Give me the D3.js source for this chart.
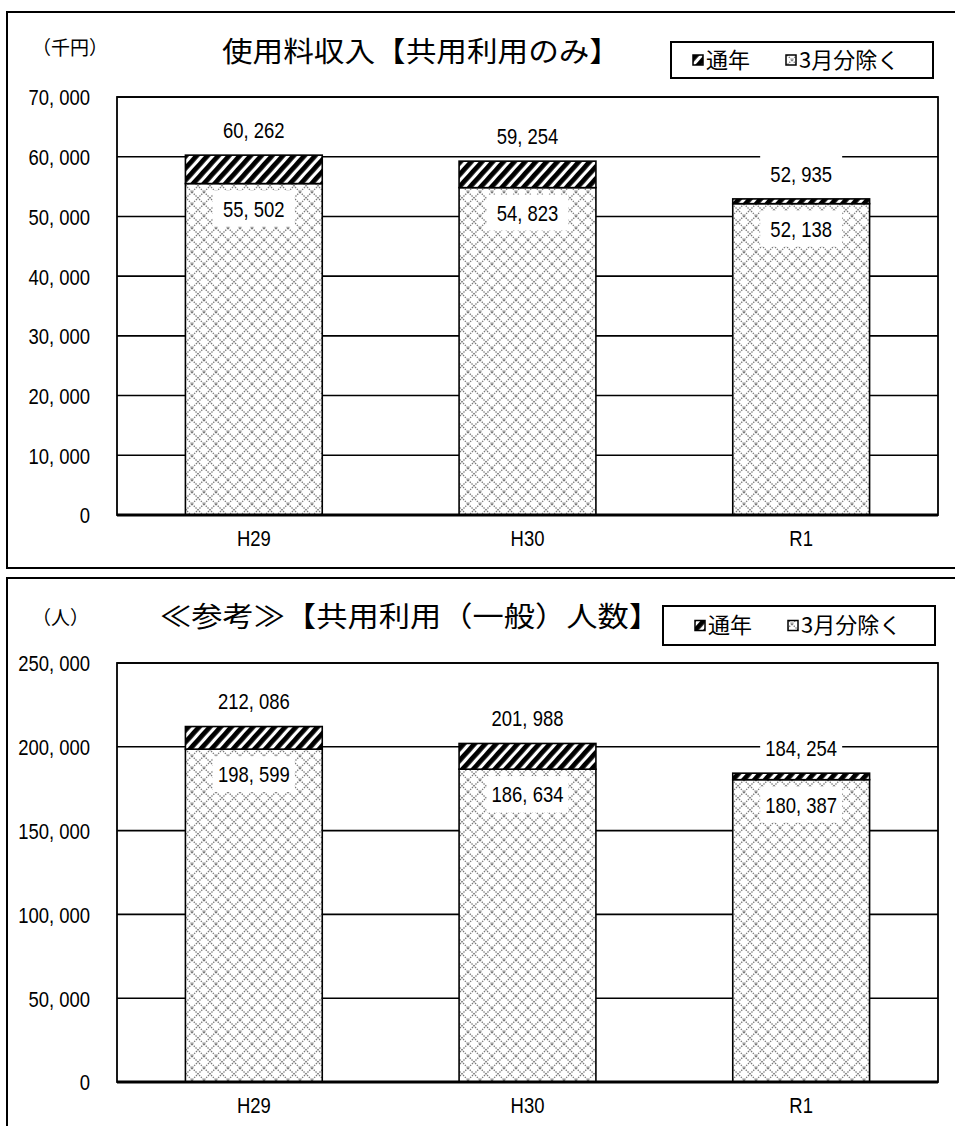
<!DOCTYPE html>
<html><head><meta charset="utf-8">
<script src="https://cdn.jsdelivr.net/npm/d3@7/dist/d3.min.js"></script>
<style>
html,body{margin:0;padding:0;background:#fff;}
svg{display:block;}
.num{font-family:"Liberation Sans","Arimo",sans-serif;font-size:22px;fill:#000;}
.jp{font-family:"Noto Sans CJK JP","Noto Sans",sans-serif;fill:#000;}
</style>
</head><body>
<svg id="c" width="955" height="1126"></svg>
<script>
// ---- data ----
const categories = ["H29", "H30", "R1"];
const seriesKeys = ["3月分除く", "通年"];
// chart 1: 使用料収入 (千円)
const feeFullYear = [60262, 59254, 52935];
const feeExclMarch = [55502, 54823, 52138];
const feeTicks = [0, 10000, 20000, 30000, 40000, 50000, 60000, 70000];
// chart 2: 人数
const usersFullYear = [212086, 201988, 184254];
const usersExclMarch = [198599, 186634, 180387];
const usersTicks = [0, 50000, 100000, 150000, 200000, 250000];

const SX = 0.84; // horizontal squeeze to mimic the narrow digits

const svg = d3.select("#c");
const defs = svg.append("defs");

// diagonal black hatch
const hatch = defs.append("pattern").attr("id","hatch").attr("patternUnits","userSpaceOnUse")
  .attr("width",8).attr("height",8).attr("patternTransform","rotate(42)");
hatch.append("rect").attr("width",8).attr("height",8).attr("fill","#fff");
hatch.append("rect").attr("x",0).attr("y",0).attr("width",4.8).attr("height",8).attr("fill","#000");

// gray dotted diamond lattice
const lat = defs.append("pattern").attr("id","lattice").attr("patternUnits","userSpaceOnUse")
  .attr("width",12).attr("height",12);
lat.append("rect").attr("width",12).attr("height",12).attr("fill","#fff");
lat.append("path").attr("d","M0,0 L12,12 M12,0 L0,12")
  .attr("stroke","#7a7a7a").attr("stroke-width",1.3).attr("stroke-dasharray","1.4,1.1").attr("fill","none");

const fmt = v => d3.format(",")(v).replace(/,/g, ", ");

function drawChart(cfg){
  const g = svg.append("g");
  // outer frame
  g.append("rect").attr("x",cfg.frame[0]).attr("y",cfg.frame[1]).attr("width",cfg.frame[2]).attr("height",cfg.frame[3])
    .attr("fill","#fff").attr("stroke","#000").attr("stroke-width",2);

  const x = d3.scaleBand().domain(categories).range([117, 938]).paddingInner(0.5).paddingOuter(0.25);
  const y = d3.scaleLinear().domain([0, d3.max(cfg.ticks)]).range([cfg.bottom, cfg.top]);

  // gridlines
  g.append("g").selectAll("line").data(cfg.ticks.filter(t=>t>0)).join("line")
    .attr("x1",117).attr("x2",938).attr("y1",d=>y(d)).attr("y2",d=>y(d))
    .attr("stroke","#000").attr("stroke-width",1.6);

  // stacked bars
  const rows = categories.map((c,i)=>({cat:c, "3月分除く":cfg.excl[i], "通年":cfg.full[i]-cfg.excl[i]}));
  const stack = d3.stack().keys(seriesKeys)(rows);
  const fills = {"3月分除く":"url(#lattice)", "通年":"url(#hatch)"};
  stack.forEach(layer=>{
    g.append("g").selectAll("rect").data(layer).join("rect")
      .attr("x",d=>x(d.data.cat)).attr("width",x.bandwidth())
      .attr("y",d=>y(d[1])).attr("height",d=>y(d[0])-y(d[1]))
      .attr("fill",fills[layer.key]).attr("stroke","#000").attr("stroke-width",1.6);
  });

  // plot border
  g.append("rect").attr("x",117).attr("y",cfg.top).attr("width",821).attr("height",cfg.bottom-cfg.top)
    .attr("fill","none").attr("stroke","#000").attr("stroke-width",1.8);
  g.append("line").attr("x1",117).attr("x2",938).attr("y1",cfg.bottom).attr("y2",cfg.bottom)
    .attr("stroke","#000").attr("stroke-width",3);

  // y axis labels
  const ya = g.append("g").attr("transform","translate(90,0)")
    .call(d3.axisLeft(y).tickValues(cfg.ticks).tickFormat(fmt).tickSize(0).tickPadding(0));
  ya.select(".domain").remove();
  ya.selectAll("text").attr("class","num").attr("font-size",null).attr("font-family",null)
    .attr("dy","0.36em").attr("transform",`scale(${SX},1)`);

  // x axis labels
  const xa = g.append("g").attr("transform",`translate(0,${cfg.bottom})`)
    .call(d3.axisBottom(x).tickSize(0).tickPadding(0));
  xa.select(".domain").remove();
  xa.selectAll("text").attr("class","num").attr("font-size",null).attr("font-family",null)
    .attr("dy","1.42em").attr("transform",`scale(${SX},1)`);

  // data labels with white boxes
  const lab = (xc, yc, v)=>{
    g.append("rect").attr("x",xc-41).attr("y",yc-18).attr("width",82).attr("height",36).attr("fill","#fff");
    g.append("g").attr("transform",`translate(${xc},${yc}) scale(${SX},1)`)
      .append("text").attr("class","num").attr("dy","0.36em")
      .attr("text-anchor","middle").text(fmt(v));
  };
  categories.forEach((c,i)=>{
    const xc = x(c)+x.bandwidth()/2;
    lab(xc, y(cfg.full[i]) - 25, cfg.full[i]);
    lab(xc, y(cfg.excl[i]) + 25, cfg.excl[i]);
  });

  // unit
  g.append("text").attr("class","jp").attr("x",32).attr("y",cfg.unitY).attr("dy","0.36em")
    .attr("font-size",19).text(cfg.unit);
  // title
  g.append("text").attr("class","jp").attr("x",cfg.titleX).attr("y",cfg.titleY).attr("dy","0.36em")
    .attr("font-size",28).attr("font-weight",400)
    .attr("textLength",cfg.titleLen).attr("lengthAdjust","spacingAndGlyphs").text(cfg.title);
  // legend
  const L = cfg.legend;
  g.append("rect").attr("x",L[0]).attr("y",L[1]).attr("width",L[2]).attr("height",L[3])
    .attr("fill","#fff").attr("stroke","#000").attr("stroke-width",2);
  const ly = L[1]+L[3]/2;
  const items = [{k:"通年",fill:"url(#hatch)",dx:cfg.leg1},{k:"3月分除く",fill:"url(#lattice)",dx:cfg.leg2}];
  items.forEach(it=>{
    g.append("rect").attr("x",it.dx).attr("y",ly-5).attr("width",10).attr("height",10)
      .attr("fill",it.fill).attr("stroke","#000").attr("stroke-width",1.5);
    g.append("text").attr("class","jp").attr("x",it.dx+13).attr("y",ly).attr("dy","0.36em")
      .attr("font-size",22).text(it.k);
  });
}

drawChart({frame:[7,12,960,556], top:97, bottom:515, ticks:feeTicks, full:feeFullYear, excl:feeExclMarch,
  unit:"（千円）", unitY:48, title:"使用料収入【共用利用のみ】", titleX:222, titleY:52, titleLen:398,
  legend:[671,42,262,36], leg1:693, leg2:786});
drawChart({frame:[7,578,960,560], top:663, bottom:1082, ticks:usersTicks, full:usersFullYear, excl:usersExclMarch,
  unit:"（人）", unitY:618, title:"≪参考≫【共用利用（一般）人数】", titleX:160, titleY:617, titleLen:500,
  legend:[663,606,272,39], leg1:695, leg2:788});
</script>
</body></html>
